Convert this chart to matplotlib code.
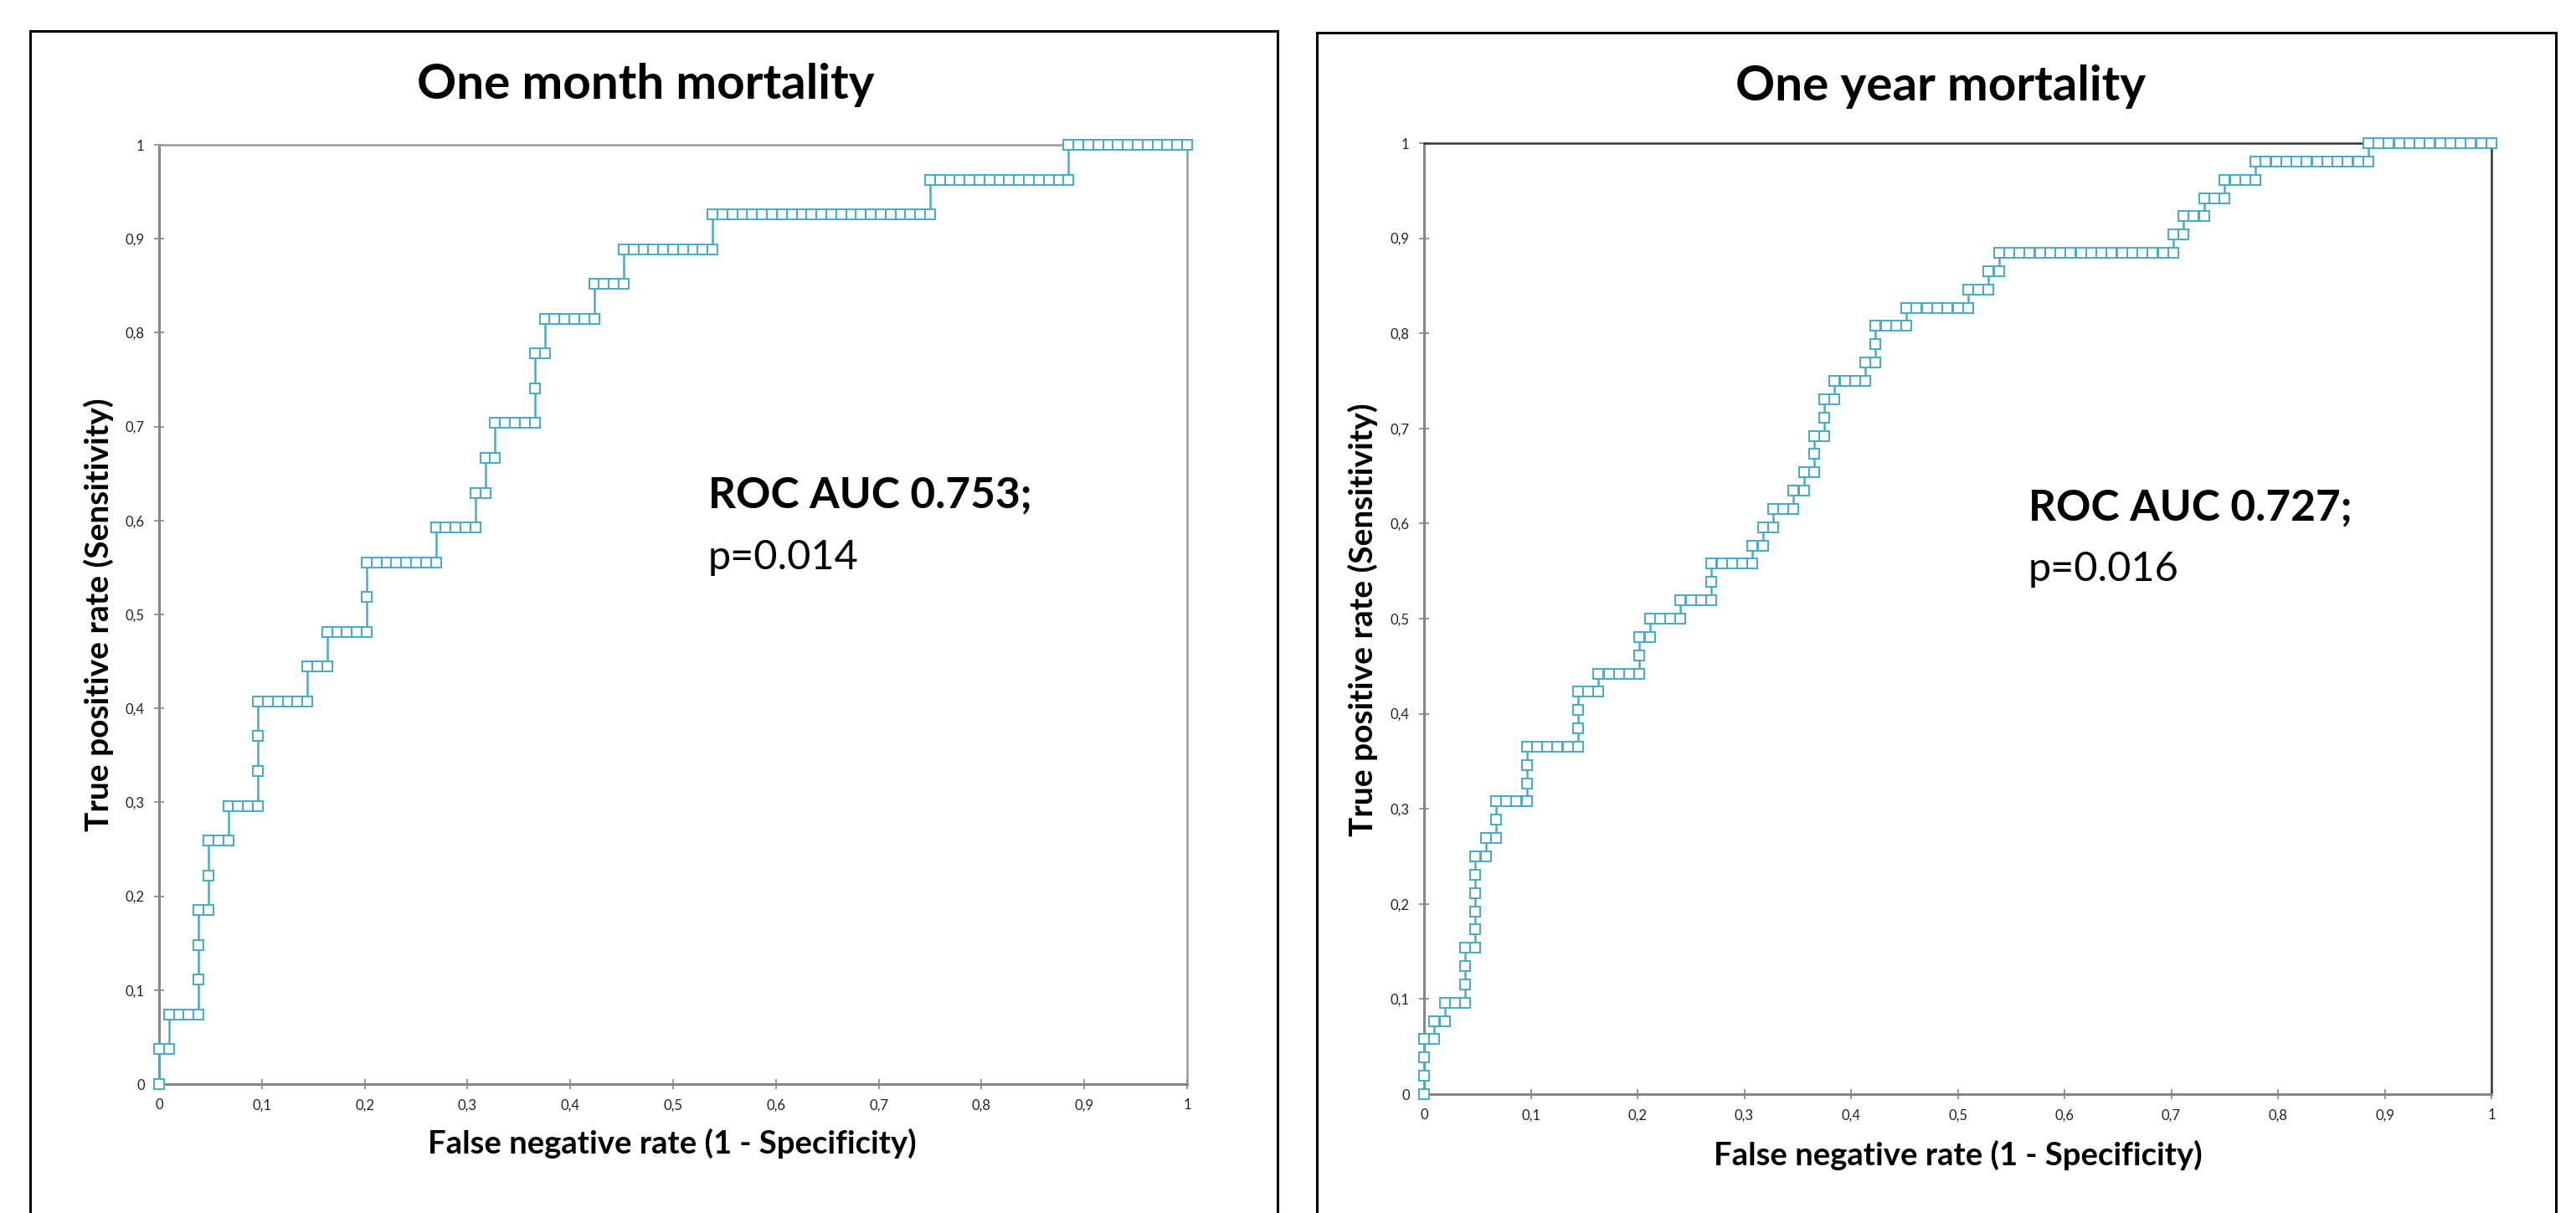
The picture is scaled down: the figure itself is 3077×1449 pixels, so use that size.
import numpy as np
import matplotlib.pyplot as plt
from matplotlib.patches import Rectangle

plt.rcParams['font.family'] = ['Lato', 'DejaVu Sans']

# ROC curves: for each sensitivity level (one per
# positive case) the number of negative cases passed at that level
month_runs = [0, 1, 3, 0, 0, 1, 0, 2, 3, 0, 0, 5, 2, 4, 0, 7, 4, 1, 1, 4,
              0, 1, 5, 3, 9, 22, 14, 12]
year_runs = [0, 0, 0, 1, 1, 2, 0, 0, 1, 0, 0, 0, 0, 1, 1, 0, 3, 0, 0, 5,
             0, 0, 2, 4, 0, 1, 3, 3, 0, 4, 1, 1, 2, 1, 1, 0, 1, 0, 1, 3,
             1, 0, 3, 6, 2, 1, 17, 1, 2, 2, 3, 11, 12]

titles = ["One month mortality", "One year mortality"]
auc_text = ["ROC AUC 0.753;", "ROC AUC 0.727;"]
p_text = ["p=0.014", "p=0.016"]

ticks = [0, 0.1, 0.2, 0.3, 0.4, 0.5, 0.6, 0.7, 0.8, 0.9, 1]
tick_labels = ["0", "0,1", "0,2", "0,3", "0,4", "0,5", "0,6", "0,7", "0,8", "0,9", "1"]

xlabel = "False negative rate (1 - Specificity)"
ylabel = "True positive rate (Sensitivity)"

LINE = "#4BACC6"
W, H = 3077, 1449


def roc_points(runs):
    n_pos = len(runs) - 1
    n_neg = sum(runs)
    fp, tp = [], []
    neg = 0
    for level, run in enumerate(runs):
        for k in range(run + 1):
            fp.append((neg + k) / n_neg)
            tp.append(level / n_pos)
        neg += run
    return np.array(fp), np.array(tp)


def fx(px):
    return px / W


def fy(py):
    return 1 - py / H


fig = plt.figure(figsize=(W / 100, H / 100), dpi=100)

# panel frames (bottom edge runs off the picture)
for x0, x1, y0 in [(36, 1526, 37), (1573, 3053, 39)]:
    fig.patches.append(Rectangle((fx(x0), fy(H + 40)), fx(x1) - fx(x0), fy(y0) - fy(H + 40),
                                 transform=fig.transFigure, fill=False,
                                 edgecolor="black", linewidth=2.2))

axes_px = [(190, 173, 1418, 1295), (1701, 171, 2976, 1307)]
title_pos = [(771, 118), (2318, 120)]
xlabel_pos = [(803, 1378), (2339, 1392)]
ylabel_pos = [(118, 734), (1628, 740)]
auc_pos = [(846, 607, 680), (2423, 622, 694)]
frame_col = ["#9a9a9a", "#333333"]

for i, runs in enumerate([month_runs, year_runs]):
    l, t, r, b = axes_px[i]
    ax = fig.add_axes([fx(l), fy(b), fx(r) - fx(l), fy(t) - fy(b)])
    fpr, tpr = roc_points(runs)
    ax.plot(fpr, tpr, color=LINE, linewidth=1.8, marker="s", markersize=8.8,
            markerfacecolor="white", markeredgecolor=LINE, markeredgewidth=1.5,
            clip_on=False, zorder=5)
    ax.set_xlim(0, 1)
    ax.set_ylim(0, 1)
    ax.set_xticks(ticks)
    ax.set_xticklabels(tick_labels)
    ax.set_yticks(ticks)
    ax.set_yticklabels(tick_labels)
    ax.tick_params(direction="inout", length=9, width=1.2, color="#868686",
                   labelsize=12, labelcolor="#222222", pad=8)
    for side in ["left", "bottom"]:
        ax.spines[side].set_color("#868686")
        ax.spines[side].set_linewidth(2.2)
    for side in ["top", "right"]:
        ax.spines[side].set_color(frame_col[i])
        ax.spines[side].set_linewidth(1.8)

    tx, ty = title_pos[i]
    fig.text(fx(tx), fy(ty), titles[i], ha="center", va="baseline",
             fontsize=42, fontweight="bold")
    lx, ly = xlabel_pos[i]
    fig.text(fx(lx), fy(ly), xlabel, ha="center", va="baseline",
             fontsize=27.5, fontweight="bold")
    yx, yy = ylabel_pos[i]
    fig.text(fx(yx), fy(yy), ylabel, ha="center", va="center", rotation=90,
             fontsize=28, fontweight="bold")
    ax_, ay1, ay2 = auc_pos[i]
    fig.text(fx(ax_), fy(ay1), auc_text[i], ha="left", va="baseline",
             fontsize=37, fontweight="bold")
    fig.text(fx(ax_), fy(ay2), p_text[i], ha="left", va="baseline",
             fontsize=35)

fig.savefig("out.png", dpi=100, facecolor="white")
